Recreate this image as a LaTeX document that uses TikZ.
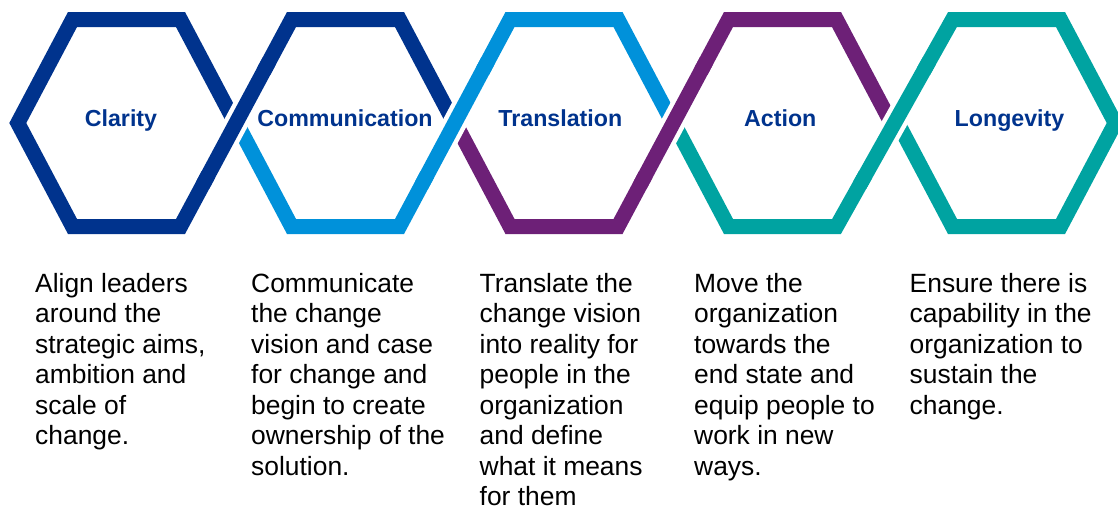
\documentclass[tikz,border=0pt]{standalone}
\usepackage{fontspec}
\setmainfont{Liberation Sans}
\usetikzlibrary{positioning, calc}

\definecolor{clarityblue}{HTML}{00338D}
\definecolor{commblue}{HTML}{0091DA}
\definecolor{transpurple}{HTML}{6D2077}
\definecolor{actionteal}{HTML}{00A3A1}

\begin{document}
\begin{tikzpicture}[x=1pt, y=-1pt,
    band/.style={line width=15pt, line join=miter},
    gap/.style={line width=24pt, white},
    title/.style={font=\bfseries\fontsize{23.2}{26}\selectfont, text=clarityblue, inner sep=0pt, anchor=base},
    desc/.style={font=\fontsize{26.4}{30.5}\selectfont, align=left, inner sep=0pt, anchor=base west}]
    \useasboundingbox (0,0) rectangle (1118,509);
    % corner points of the five hexagons
    \foreach \cx [count=\i] in {126.5, 345.5, 564, 782.5, 1006.5} {
        \coordinate (h\i-tl) at (\cx-54, 19.5);
        \coordinate (h\i-tr) at (\cx+54, 19.5);
        \coordinate (h\i-r) at (\cx+108.7, 123);
        \coordinate (h\i-br) at (\cx+54, 226.5);
        \coordinate (h\i-bl) at (\cx-54, 226.5);
        \coordinate (h\i-l) at (\cx-108.7, 123);
    }
    % the linked bands
    \draw[band, clarityblue] (h1-r) -- (h1-tr) -- (h1-tl) -- (h1-l) -- (h1-bl) -- (h1-br) -- (h2-tl) -- (h2-tr) -- (h2-r);
    \draw[band, commblue] (h2-l) -- (h2-bl) -- (h2-br) -- (h3-tl) -- (h3-tr) -- (h3-r);
    \draw[band, transpurple] (h3-l) -- (h3-bl) -- (h3-br) -- (h4-tl) -- (h4-tr) -- (h4-r);
    \draw[band, actionteal] (h4-l) -- (h4-bl) -- (h4-br) -- (h5-tl) -- (h5-tr) -- (h5-r) -- (h5-br) -- (h5-bl) -- (h5-l);
    % crossings lie over the cut ends
    \foreach \a/\b/\col in {1/2/clarityblue, 2/3/commblue, 3/4/transpurple, 4/5/actionteal} {
        \draw[gap] ($(h\a-br)!0.25!(h\b-tl)$) -- ($(h\a-br)!0.75!(h\b-tl)$);
        \draw[band, \col] ($(h\a-br)!0.2!(h\b-tl)$) -- ($(h\a-br)!0.8!(h\b-tl)$);
    }
    % titles
    \node[title] (clarity) at (121, 126) {Clarity};
    \node[title] (communication) at (345, 126) {Communication};
    \node[title] (translation) at (560.3, 126) {Translation};
    \node[title] (action) at (780.3, 126) {Action};
    \node[title] (longevity) at (1009.5, 126) {Longevity};
    % descriptions (placed at the baseline of their last line)
    \node[desc] (clarity-text) at (35, 444.8) {Align leaders\\around the\\strategic aims,\\ambition and\\scale of\\change.};
    \node[desc] (communication-text) at (251, 475.3) {Communicate\\the change\\vision and case\\for change and\\begin to create\\ownership of the\\solution.};
    \node[desc] (translation-text) at (479.5, 505.8) {Translate the\\change vision\\into reality for\\people in the\\organization\\and define\\what it means\\for them};
    \node[desc] (action-text) at (694, 475.3) {Move the\\organization\\towards the\\end state and\\equip people to\\work in new\\ways.};
    \node[desc] (longevity-text) at (909.5, 414.3) {Ensure there is\\capability in the\\organization to\\sustain the\\change.};
\end{tikzpicture}
\end{document}
